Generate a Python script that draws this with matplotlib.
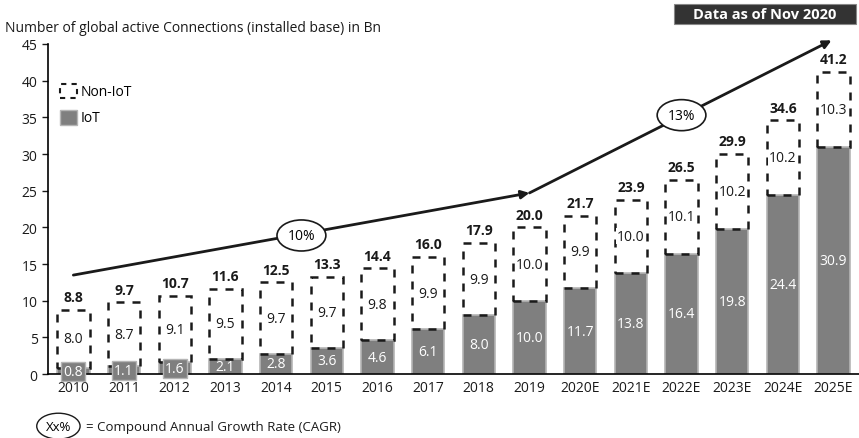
import numpy as np
import matplotlib.pyplot as plt
from matplotlib.patches import Rectangle

plt.rcParams['font.family'] = ['Open Sans', 'DejaVu Sans']

years = ['2010', '2011', '2012', '2013', '2014', '2015', '2016', '2017', '2018',
         '2019', '2020E', '2021E', '2022E', '2023E', '2024E', '2025E']
iot = [0.8, 1.1, 1.6, 2.1, 2.8, 3.6, 4.6, 6.1, 8.0, 10.0, 11.7, 13.8, 16.4, 19.8, 24.4, 30.9]
non_iot = [8.0, 8.7, 9.1, 9.5, 9.7, 9.7, 9.8, 9.9, 9.9, 10.0, 9.9, 10.0, 10.1, 10.2, 10.2, 10.3]
totals = [8.8, 9.7, 10.7, 11.6, 12.5, 13.3, 14.4, 16.0, 17.9, 20.0, 21.7, 23.9, 26.5, 29.9, 34.6, 41.2]

# CAGR arrows: (idx, val) points the arrows run through, and label spots
cagr_pts = [(0.0, 13.5), (9.0, 24.7), (14.96, 45.5)]
cagr_labels = ['10%', '13%']
cagr_label_pos = [(4.5, 18.9), (12.0, 35.3)]

fig = plt.figure(figsize=(8.59, 4.39), dpi=100)
ax = fig.add_axes([0.0559, 0.1455, 0.944, 0.752])

x = np.arange(len(years))
w = 0.64
top = np.array(iot) + np.array(non_iot)

ax.bar(x, iot, width=w, color='#7f7f7f', edgecolor='#b5b5b5', linewidth=1.2, zorder=2)
ax.bar(x, non_iot, width=w, bottom=iot, facecolor='none', edgecolor='#1a1a1a',
       linewidth=1.8, linestyle=(0, (3.2, 3.2)), zorder=3)

for i in range(len(years)):
    # small bars: label sits in its own grey box, over the axis line
    box = dict(facecolor='#7f7f7f', edgecolor='#b5b5b5', lw=1, pad=1.5) if iot[i] < 2 else None
    ax.text(x[i], iot[i] / 2, f'{iot[i]:.1f}', ha='center', va='center',
            color='white', fontsize=10, zorder=6, bbox=box)
    ax.text(x[i], iot[i] + non_iot[i] / 2, f'{non_iot[i]:.1f}', ha='center', va='center',
            color='#1a1a1a', fontsize=10, zorder=4,
            bbox=dict(facecolor='white', edgecolor='none', pad=0.5))
    ax.annotate(f'{totals[i]:.1f}', (x[i], top[i]), xytext=(0, 4), textcoords='offset points',
                ha='center', va='bottom', fontsize=10, fontweight='bold', color='#1a1a1a')

# CAGR arrows
for (x0, y0), (x1, y1) in zip(cagr_pts[:-1], cagr_pts[1:]):
    ax.annotate('', xy=(x1, y1), xytext=(x0, y0), annotation_clip=False,
                arrowprops=dict(arrowstyle='-|>', color='#1a1a1a', lw=2,
                                mutation_scale=12, shrinkA=0, shrinkB=0))
for lab, (lx, ly) in zip(cagr_labels, cagr_label_pos):
    ax.text(lx, ly, lab, ha='center', va='center', fontsize=10, zorder=5,
            bbox=dict(boxstyle='ellipse,pad=0.25', facecolor='white', edgecolor='#1a1a1a', lw=1.2))

ax.set_xlim(-0.5, 15.5)
ax.set_ylim(0, 45)
ax.set_yticks(range(0, 46, 5))
ax.set_xticks(x)
ax.set_xticklabels(years)
ax.tick_params(axis='both', labelsize=10, colors='#1a1a1a', length=4, width=1)
ax.tick_params(axis='x', length=0, pad=4)
for s in ['top', 'right']:
    ax.spines[s].set_visible(False)
ax.spines['left'].set_linewidth(1.2)
ax.spines['bottom'].set_linewidth(1.2)
ax.spines['bottom'].set_zorder(5)

# legend
ax.add_patch(Rectangle((0.0152, 0.835), 0.02, 0.044, transform=ax.transAxes, facecolor='none',
                       edgecolor='#1a1a1a', lw=1.5, linestyle=(0, (2.5, 2.5)), clip_on=False))
ax.text(0.04, 0.857, 'Non-IoT', transform=ax.transAxes, va='center', fontsize=10)
ax.add_patch(Rectangle((0.0152, 0.755), 0.02, 0.044, transform=ax.transAxes, facecolor='#7f7f7f',
                       edgecolor='#b5b5b5', lw=1, clip_on=False))
ax.text(0.04, 0.777, 'IoT', transform=ax.transAxes, va='center', fontsize=10)

fig.text(0.006, 0.935, 'Number of global active Connections (installed base) in Bn',
         fontsize=10, va='center', color='#1a1a1a')
fig.patches.append(Rectangle((0.7846, 0.943), 0.2119, 0.0456, transform=fig.transFigure,
                             facecolor='#333333', edgecolor='#888888', lw=0.8))
fig.text(0.8906, 0.965, 'Data as of Nov 2020', fontsize=10.5, fontweight='bold', color='white',
         ha='center', va='center')
fig.text(0.068, 0.027, 'Xx%', fontsize=9.5, ha='center', va='center',
         bbox=dict(boxstyle='ellipse,pad=0.2', facecolor='white', edgecolor='#1a1a1a', lw=1))
fig.text(0.1, 0.027, '= Compound Annual Growth Rate (CAGR)', fontsize=9.5, va='center',
         color='#1a1a1a')

fig.savefig('out.png', dpi=100)
